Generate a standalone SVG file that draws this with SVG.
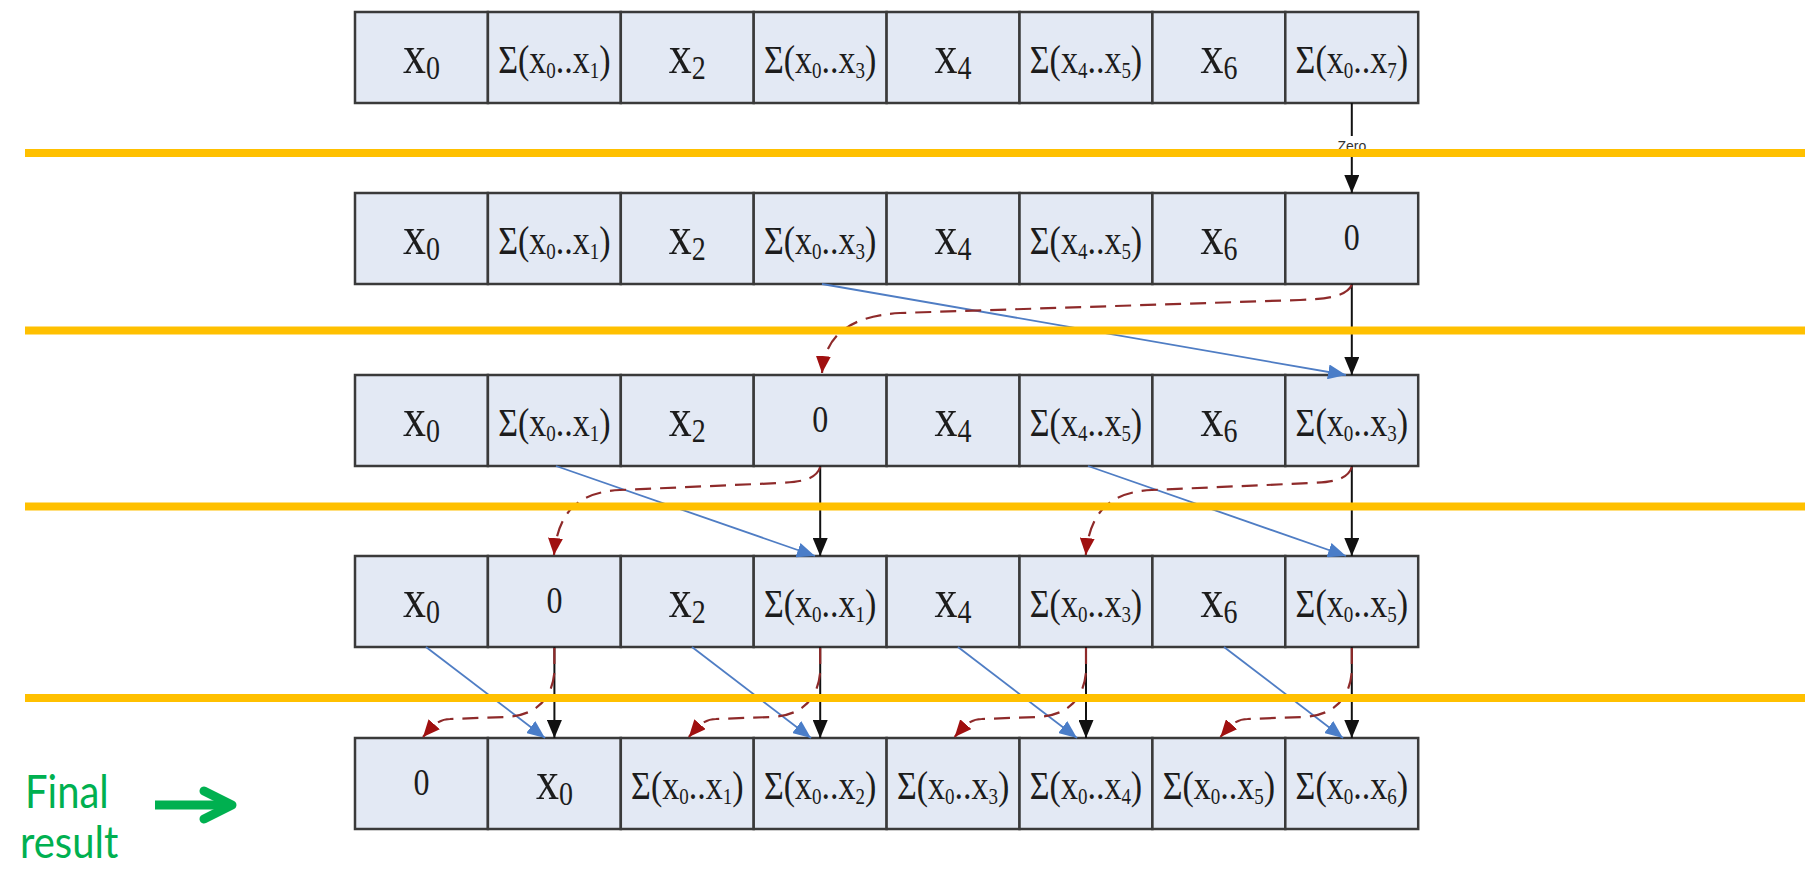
<svg xmlns="http://www.w3.org/2000/svg" width="1805" height="869" viewBox="0 0 1805 869">
<style>
.cell{fill:#E3E9F4;stroke:#3A3A3A;stroke-width:2.5}
.v{font-family:"Liberation Serif","Times New Roman",serif;font-size:46px;fill:#1C1C1C;text-anchor:middle}
.vs{font-size:28px}
.s{font-family:"Liberation Serif","Times New Roman",serif;font-size:34px;fill:#1C1C1C;text-anchor:middle}
.ss{font-size:19px}
.z{font-family:"Liberation Serif","Times New Roman",serif;font-size:32px;fill:#1C1C1C;text-anchor:middle}
.blk{fill:none;stroke:#111;stroke-width:2;marker-end:url(#ab)}
.blu{fill:none;stroke:#4F7DC4;stroke-width:1.8;marker-end:url(#abl)}
.red{fill:none;stroke:#8E2A2A;stroke-width:2.2;stroke-dasharray:16 9;marker-end:url(#ar)}
.sep{stroke:#FFC000;stroke-width:8}
.lbl{font-family:"Liberation Sans",Arial,sans-serif;font-size:14px;fill:#333;text-anchor:middle}
.fin{font-family:Lato,"Open Sans",sans-serif;font-size:40px;fill:#00B050}
</style>
<defs>
<marker id="ab" viewBox="0 0 18 15" refX="18" refY="7.5" markerWidth="18" markerHeight="15" markerUnits="userSpaceOnUse" orient="auto"><path d="M0,0 L18,7.5 L0,15 Z" fill="#111"/></marker>
<marker id="abl" viewBox="0 0 18 15" refX="18" refY="7.5" markerWidth="18" markerHeight="15" markerUnits="userSpaceOnUse" orient="auto"><path d="M0,0 L18,7.5 L0,15 Z" fill="#4A7DC8"/></marker>
<marker id="ar" viewBox="0 0 17 15" refX="17" refY="7.5" markerWidth="17" markerHeight="15" markerUnits="userSpaceOnUse" orient="auto"><path d="M0,0 L17,7.5 L0,15 Z" fill="#A01010"/></marker>
</defs>
<rect width="1805" height="869" fill="#fff"/>

<!-- Row 1 -->
<g id="row1">
<g id="r1c1"><rect class="cell" x="355" y="12" width="132.9" height="91"/><text class="v" transform="translate(421.5,73) scale(1,1.2)">x<tspan class="vs" dy="5">0</tspan></text></g>
<g id="r1c2"><rect class="cell" x="487.9" y="12" width="132.9" height="91"/><text class="s" transform="translate(554.4,73) scale(1,1.2)">Σ(x<tspan class="ss" dy="4">0</tspan><tspan dy="-4">..x</tspan><tspan class="ss" dy="4">1</tspan><tspan dy="-4">)</tspan></text></g>
<g id="r1c3"><rect class="cell" x="620.8" y="12" width="132.9" height="91"/><text class="v" transform="translate(687.3,73) scale(1,1.2)">x<tspan class="vs" dy="5">2</tspan></text></g>
<g id="r1c4"><rect class="cell" x="753.7" y="12" width="132.9" height="91"/><text class="s" transform="translate(820.2,73) scale(1,1.2)">Σ(x<tspan class="ss" dy="4">0</tspan><tspan dy="-4">..x</tspan><tspan class="ss" dy="4">3</tspan><tspan dy="-4">)</tspan></text></g>
<g id="r1c5"><rect class="cell" x="886.6" y="12" width="132.9" height="91"/><text class="v" transform="translate(953.1,73) scale(1,1.2)">x<tspan class="vs" dy="5">4</tspan></text></g>
<g id="r1c6"><rect class="cell" x="1019.5" y="12" width="132.9" height="91"/><text class="s" transform="translate(1086,73) scale(1,1.2)">Σ(x<tspan class="ss" dy="4">4</tspan><tspan dy="-4">..x</tspan><tspan class="ss" dy="4">5</tspan><tspan dy="-4">)</tspan></text></g>
<g id="r1c7"><rect class="cell" x="1152.4" y="12" width="132.9" height="91"/><text class="v" transform="translate(1218.9,73) scale(1,1.2)">x<tspan class="vs" dy="5">6</tspan></text></g>
<g id="r1c8"><rect class="cell" x="1285.3" y="12" width="132.9" height="91"/><text class="s" transform="translate(1351.8,73) scale(1,1.2)">Σ(x<tspan class="ss" dy="4">0</tspan><tspan dy="-4">..x</tspan><tspan class="ss" dy="4">7</tspan><tspan dy="-4">)</tspan></text></g>
</g>

<!-- Row 2 -->
<g id="row2">
<g id="r2c1"><rect class="cell" x="355" y="193" width="132.9" height="91"/><text class="v" transform="translate(421.5,254) scale(1,1.2)">x<tspan class="vs" dy="5">0</tspan></text></g>
<g id="r2c2"><rect class="cell" x="487.9" y="193" width="132.9" height="91"/><text class="s" transform="translate(554.4,254) scale(1,1.2)">Σ(x<tspan class="ss" dy="4">0</tspan><tspan dy="-4">..x</tspan><tspan class="ss" dy="4">1</tspan><tspan dy="-4">)</tspan></text></g>
<g id="r2c3"><rect class="cell" x="620.8" y="193" width="132.9" height="91"/><text class="v" transform="translate(687.3,254) scale(1,1.2)">x<tspan class="vs" dy="5">2</tspan></text></g>
<g id="r2c4"><rect class="cell" x="753.7" y="193" width="132.9" height="91"/><text class="s" transform="translate(820.2,254) scale(1,1.2)">Σ(x<tspan class="ss" dy="4">0</tspan><tspan dy="-4">..x</tspan><tspan class="ss" dy="4">3</tspan><tspan dy="-4">)</tspan></text></g>
<g id="r2c5"><rect class="cell" x="886.6" y="193" width="132.9" height="91"/><text class="v" transform="translate(953.1,254) scale(1,1.2)">x<tspan class="vs" dy="5">4</tspan></text></g>
<g id="r2c6"><rect class="cell" x="1019.5" y="193" width="132.9" height="91"/><text class="s" transform="translate(1086,254) scale(1,1.2)">Σ(x<tspan class="ss" dy="4">4</tspan><tspan dy="-4">..x</tspan><tspan class="ss" dy="4">5</tspan><tspan dy="-4">)</tspan></text></g>
<g id="r2c7"><rect class="cell" x="1152.4" y="193" width="132.9" height="91"/><text class="v" transform="translate(1218.9,254) scale(1,1.2)">x<tspan class="vs" dy="5">6</tspan></text></g>
<g id="r2c8"><rect class="cell" x="1285.3" y="193" width="132.9" height="91"/><text class="z" transform="translate(1351.8,250) scale(1,1.2)">0</text></g>
</g>

<!-- Row 3 -->
<g id="row3">
<g id="r3c1"><rect class="cell" x="355" y="375" width="132.9" height="91"/><text class="v" transform="translate(421.5,436) scale(1,1.2)">x<tspan class="vs" dy="5">0</tspan></text></g>
<g id="r3c2"><rect class="cell" x="487.9" y="375" width="132.9" height="91"/><text class="s" transform="translate(554.4,436) scale(1,1.2)">Σ(x<tspan class="ss" dy="4">0</tspan><tspan dy="-4">..x</tspan><tspan class="ss" dy="4">1</tspan><tspan dy="-4">)</tspan></text></g>
<g id="r3c3"><rect class="cell" x="620.8" y="375" width="132.9" height="91"/><text class="v" transform="translate(687.3,436) scale(1,1.2)">x<tspan class="vs" dy="5">2</tspan></text></g>
<g id="r3c4"><rect class="cell" x="753.7" y="375" width="132.9" height="91"/><text class="z" transform="translate(820.2,432) scale(1,1.2)">0</text></g>
<g id="r3c5"><rect class="cell" x="886.6" y="375" width="132.9" height="91"/><text class="v" transform="translate(953.1,436) scale(1,1.2)">x<tspan class="vs" dy="5">4</tspan></text></g>
<g id="r3c6"><rect class="cell" x="1019.5" y="375" width="132.9" height="91"/><text class="s" transform="translate(1086,436) scale(1,1.2)">Σ(x<tspan class="ss" dy="4">4</tspan><tspan dy="-4">..x</tspan><tspan class="ss" dy="4">5</tspan><tspan dy="-4">)</tspan></text></g>
<g id="r3c7"><rect class="cell" x="1152.4" y="375" width="132.9" height="91"/><text class="v" transform="translate(1218.9,436) scale(1,1.2)">x<tspan class="vs" dy="5">6</tspan></text></g>
<g id="r3c8"><rect class="cell" x="1285.3" y="375" width="132.9" height="91"/><text class="s" transform="translate(1351.8,436) scale(1,1.2)">Σ(x<tspan class="ss" dy="4">0</tspan><tspan dy="-4">..x</tspan><tspan class="ss" dy="4">3</tspan><tspan dy="-4">)</tspan></text></g>
</g>

<!-- Row 4 -->
<g id="row4">
<g id="r4c1"><rect class="cell" x="355" y="556" width="132.9" height="91"/><text class="v" transform="translate(421.5,617) scale(1,1.2)">x<tspan class="vs" dy="5">0</tspan></text></g>
<g id="r4c2"><rect class="cell" x="487.9" y="556" width="132.9" height="91"/><text class="z" transform="translate(554.4,613) scale(1,1.2)">0</text></g>
<g id="r4c3"><rect class="cell" x="620.8" y="556" width="132.9" height="91"/><text class="v" transform="translate(687.3,617) scale(1,1.2)">x<tspan class="vs" dy="5">2</tspan></text></g>
<g id="r4c4"><rect class="cell" x="753.7" y="556" width="132.9" height="91"/><text class="s" transform="translate(820.2,617) scale(1,1.2)">Σ(x<tspan class="ss" dy="4">0</tspan><tspan dy="-4">..x</tspan><tspan class="ss" dy="4">1</tspan><tspan dy="-4">)</tspan></text></g>
<g id="r4c5"><rect class="cell" x="886.6" y="556" width="132.9" height="91"/><text class="v" transform="translate(953.1,617) scale(1,1.2)">x<tspan class="vs" dy="5">4</tspan></text></g>
<g id="r4c6"><rect class="cell" x="1019.5" y="556" width="132.9" height="91"/><text class="s" transform="translate(1086,617) scale(1,1.2)">Σ(x<tspan class="ss" dy="4">0</tspan><tspan dy="-4">..x</tspan><tspan class="ss" dy="4">3</tspan><tspan dy="-4">)</tspan></text></g>
<g id="r4c7"><rect class="cell" x="1152.4" y="556" width="132.9" height="91"/><text class="v" transform="translate(1218.9,617) scale(1,1.2)">x<tspan class="vs" dy="5">6</tspan></text></g>
<g id="r4c8"><rect class="cell" x="1285.3" y="556" width="132.9" height="91"/><text class="s" transform="translate(1351.8,617) scale(1,1.2)">Σ(x<tspan class="ss" dy="4">0</tspan><tspan dy="-4">..x</tspan><tspan class="ss" dy="4">5</tspan><tspan dy="-4">)</tspan></text></g>
</g>

<!-- Row 5 -->
<g id="row5">
<g id="r5c1"><rect class="cell" x="355" y="738" width="132.9" height="91"/><text class="z" transform="translate(421.5,795) scale(1,1.2)">0</text></g>
<g id="r5c2"><rect class="cell" x="487.9" y="738" width="132.9" height="91"/><text class="v" transform="translate(554.4,799) scale(1,1.2)">x<tspan class="vs" dy="5">0</tspan></text></g>
<g id="r5c3"><rect class="cell" x="620.8" y="738" width="132.9" height="91"/><text class="s" transform="translate(687.3,799) scale(1,1.2)">Σ(x<tspan class="ss" dy="4">0</tspan><tspan dy="-4">..x</tspan><tspan class="ss" dy="4">1</tspan><tspan dy="-4">)</tspan></text></g>
<g id="r5c4"><rect class="cell" x="753.7" y="738" width="132.9" height="91"/><text class="s" transform="translate(820.2,799) scale(1,1.2)">Σ(x<tspan class="ss" dy="4">0</tspan><tspan dy="-4">..x</tspan><tspan class="ss" dy="4">2</tspan><tspan dy="-4">)</tspan></text></g>
<g id="r5c5"><rect class="cell" x="886.6" y="738" width="132.9" height="91"/><text class="s" transform="translate(953.1,799) scale(1,1.2)">Σ(x<tspan class="ss" dy="4">0</tspan><tspan dy="-4">..x</tspan><tspan class="ss" dy="4">3</tspan><tspan dy="-4">)</tspan></text></g>
<g id="r5c6"><rect class="cell" x="1019.5" y="738" width="132.9" height="91"/><text class="s" transform="translate(1086,799) scale(1,1.2)">Σ(x<tspan class="ss" dy="4">0</tspan><tspan dy="-4">..x</tspan><tspan class="ss" dy="4">4</tspan><tspan dy="-4">)</tspan></text></g>
<g id="r5c7"><rect class="cell" x="1152.4" y="738" width="132.9" height="91"/><text class="s" transform="translate(1218.9,799) scale(1,1.2)">Σ(x<tspan class="ss" dy="4">0</tspan><tspan dy="-4">..x</tspan><tspan class="ss" dy="4">5</tspan><tspan dy="-4">)</tspan></text></g>
<g id="r5c8"><rect class="cell" x="1285.3" y="738" width="132.9" height="91"/><text class="s" transform="translate(1351.8,799) scale(1,1.2)">Σ(x<tspan class="ss" dy="4">0</tspan><tspan dy="-4">..x</tspan><tspan class="ss" dy="4">6</tspan><tspan dy="-4">)</tspan></text></g>
</g>

<!-- Connectors -->
<g id="connectors">
<path class="blk" d="M1351.8,103 V193"/>
<path class="blk" d="M1351.8,284 V375"/>
<path class="blk" d="M820.2,466 V556"/>
<path class="blk" d="M1351.8,466 V556"/>
<path class="blk" d="M554.4,647 V738"/>
<path class="blk" d="M820.2,647 V738"/>
<path class="blk" d="M1086,647 V738"/>
<path class="blk" d="M1351.8,647 V738"/>

<path class="blu" d="M822,284 L1346,375"/>
<path class="blu" d="M556,466 L815,556"/>
<path class="blu" d="M1088,466 L1346,556"/>
<path class="blu" d="M426,647 L545,738"/>
<path class="blu" d="M692,647 L811,738"/>
<path class="blu" d="M958,647 L1077,738"/>
<path class="blu" d="M1224,647 L1343,738"/>

<path class="red" d="M1351.8,285 C1346,297 1325,299 1300,300 L900,313 C850,316 825,335 822,373"/>
<path class="red" d="M820.2,467 C816,480 800,482 780,483 L620,490 C580,492 558,510 554,555"/>
<path class="red" d="M1351.8,467 C1347.8,480 1331.8,482 1311.8,483 L1151.8,490 C1111.8,492 1089.8,510 1085.8,555"/>
<path class="red" d="M554.4,648 L554.4,672 C552,700 535,716 505,717 L450,719 C437,719 430,729 423,737"/>
<path class="red" d="M820.2,648 L820.2,672 C817.8,700 800.8,716 770.8,717 L715.8,719 C702.8,719 695.8,729 688.8,737"/>
<path class="red" d="M1086,648 L1086,672 C1083.6,700 1066.6,716 1036.6,717 L981.6,719 C968.6,719 961.6,729 954.6,737"/>
<path class="red" d="M1351.8,648 L1351.8,672 C1349.4,700 1332.4,716 1302.4,717 L1247.4,719 C1234.4,719 1227.4,729 1220.4,737"/>

<rect x="1334" y="136" width="36" height="16" fill="#fff"/>
<text class="lbl" x="1351.8" y="151">Zero</text>
</g>

<!-- Separators -->
<g id="separators">
<line class="sep" x1="25" y1="153" x2="1805" y2="153"/>
<line class="sep" x1="25" y1="330.5" x2="1805" y2="330.5"/>
<line class="sep" x1="25" y1="506.5" x2="1805" y2="506.5"/>
<line class="sep" x1="25" y1="698" x2="1805" y2="698"/>
</g>

<!-- Final result -->
<g id="final-result">
<text class="fin" transform="translate(25,808) scale(1,1.15)">Final</text>
<text class="fin" transform="translate(20,858) scale(1,1.1)">result</text>
<path d="M155,805 H228" stroke="#00B050" stroke-width="9" fill="none"/>
<path d="M204,791 L232,805 L204,819" stroke="#00B050" stroke-width="9" fill="none" stroke-linecap="round" stroke-linejoin="round"/>
</g>
</svg>
